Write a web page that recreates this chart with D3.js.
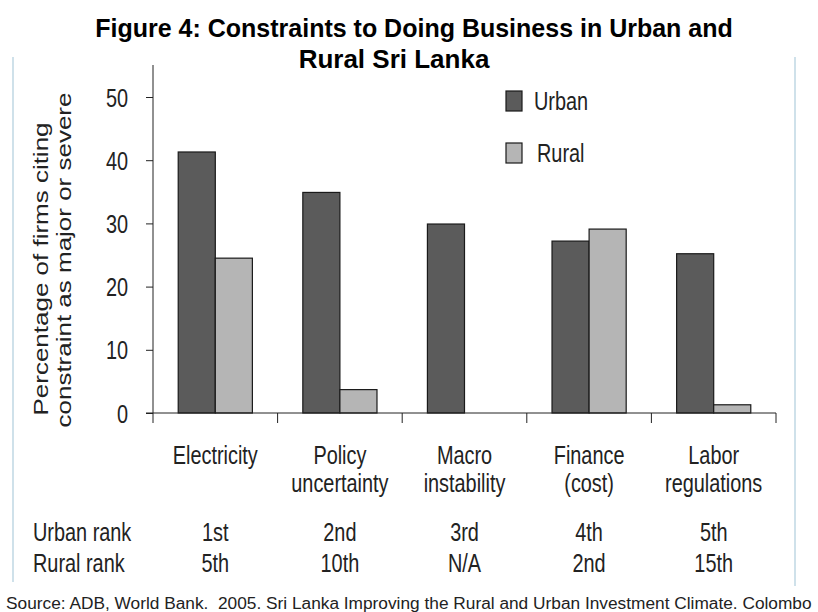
<!DOCTYPE html>
<html lang="en">
<head>
    <meta charset="UTF-8">
    <title>Constraints to Doing Business in Urban and Rural Sri Lanka</title>
    <style>
        body { margin: 0; background: #fff; }
        svg text { font-family: "Liberation Sans", Arial, sans-serif; fill: #222; }
        .title text { font-weight: bold; fill: #000; }
    </style>
</head>
<body>
    <div id="chart"></div>

    <script src="https://d3js.org/d3.v7.min.js"></script>
    <script>
        // data
        const categories = ["Electricity", "Policy uncertainty", "Macro instability", "Finance (cost)", "Labor regulations"];
        const catLines = [["Electricity"], ["Policy", "uncertainty"], ["Macro", "instability"], ["Finance", "(cost)"], ["Labor", "regulations"]];
        const series = ["Urban", "Rural"];
        const urban = [41.3, 34.9, 29.9, 27.2, 25.2];
        const rural = [24.5, 3.7, null, 29.1, 1.3]; // macro instability: N/A for rural
        const urbanRank = ["1st", "2nd", "3rd", "4th", "5th"];
        const ruralRank = ["5th", "10th", "N/A", "2nd", "15th"];
        const yTicks = [0, 10, 20, 30, 40, 50];

        const width = 818, height = 612;
        const fs = 26;      // chart text size (picture is squashed sideways)
        const sx = 0.765;

        const svg = d3.select("#chart").append("svg")
            .attr("width", width)
            .attr("height", height);

        // title
        const title = svg.append("g").attr("class", "title");
        title.append("text").attr("x", 414).attr("y", 37).attr("text-anchor", "middle")
            .style("font-size", "25px").text("Figure 4: Constraints to Doing Business in Urban and");
        title.append("text").attr("x", 394).attr("y", 68).attr("text-anchor", "middle")
            .style("font-size", "26px").text("Rural Sri Lanka");

        // light blue edges of the pasted picture
        svg.append("line").attr("x1", 13).attr("x2", 13).attr("y1", 57).attr("y2", 582)
            .attr("stroke", "#cfe1ea").attr("stroke-width", 2);
        svg.append("line").attr("x1", 795).attr("x2", 795).attr("y1", 57).attr("y2", 586)
            .attr("stroke", "#cfe1ea").attr("stroke-width", 2);

        // narrow text helper
        function narrow(g, x, y, str, anchor, size) {
            return g.append("text")
                .attr("transform", `translate(${x},${y}) scale(${sx},1)`)
                .attr("text-anchor", anchor || "middle")
                .style("font-size", (size || fs) + "px")
                .text(str);
        }

        const x0 = d3.scaleBand().domain(categories).range([153, 776]).padding(0);
        const x1 = d3.scaleBand().domain(series).range([0, x0.bandwidth()]).paddingOuter(0.68);
        const y = d3.scaleLinear().domain([0, 50]).range([413, 97]);
        const color = d3.scaleOrdinal().domain(series).range(["#5b5b5b", "#b5b5b5"]);

        // y axis
        const yAxis = svg.append("g")
            .attr("transform", "translate(153,0)")
            .call(d3.axisLeft(y).tickValues(yTicks).tickSize(7).tickSizeOuter(0));
        yAxis.select(".domain").attr("d", `M0,${y(0)}V65`).attr("stroke", "#222");
        yAxis.selectAll(".tick line").attr("stroke", "#222");
        yAxis.selectAll(".tick text")
            .attr("x", 0).attr("dy", "0.35em")
            .attr("transform", `translate(-25,0) scale(${sx},1)`)
            .style("font-size", fs + "px")
            .style("font-family", "\"Liberation Sans\", Arial, sans-serif")
            .attr("fill", "#222");

        // y axis title
        const yt = [["Percentage of firms citing", 48, 269], ["constraint as major or severe", 71, 260]];
        yt.forEach(([t, bx, cy]) => {
            svg.append("text")
                .attr("transform", `translate(${bx},${cy}) rotate(-90) scale(1,${sx})`)
                .attr("text-anchor", "middle")
                .style("font-size", fs + "px")
                .text(t);
        });

        // bars
        const rows = categories.map((c, i) => ({ cat: c, Urban: urban[i], Rural: rural[i] }));
        const groups = svg.append("g").selectAll("g")
            .data(rows)
            .join("g")
            .attr("transform", d => `translate(${x0(d.cat)},0)`);
        groups.selectAll("rect")
            .data(d => series.map(s => ({ key: s, value: d[s] })).filter(v => v.value != null))
            .join("rect")
            .attr("x", d => x1(d.key))
            .attr("width", x1.bandwidth())
            .attr("y", d => y(d.value))
            .attr("height", d => y(0) - y(d.value))
            .attr("fill", d => color(d.key))
            .attr("stroke", "#1a1a1a")
            .attr("stroke-width", 1.2);

        // x axis with ticks on band edges
        svg.append("line").attr("x1", 146).attr("x2", x0.range()[1]).attr("y1", y(0)).attr("y2", y(0))
            .attr("stroke", "#222");
        const edges = categories.map(c => x0(c)).concat([x0.range()[1]]);
        svg.append("g").selectAll("line")
            .data(edges)
            .join("line")
            .attr("x1", d => d).attr("x2", d => d)
            .attr("y1", y(0)).attr("y2", y(0) + 10)
            .attr("stroke", "#222");

        // category labels
        const labels = svg.append("g");
        catLines.forEach((lines, i) => {
            const cx = x0(categories[i]) + x0.bandwidth() / 2;
            lines.forEach((l, j) => narrow(labels, cx, 464 + j * 28, l));
        });

        // rank rows
        const ranks = svg.append("g");
        narrow(ranks, 33, 541, "Urban rank", "start");
        narrow(ranks, 33, 572, "Rural rank", "start");
        categories.forEach((c, i) => {
            const cx = x0(c) + x0.bandwidth() / 2;
            narrow(ranks, cx, 541, urbanRank[i]);
            narrow(ranks, cx, 572, ruralRank[i]);
        });

        // legend
        const legend = svg.append("g");
        series.forEach((s, i) => {
            legend.append("rect")
                .attr("x", 506).attr("y", 91 + i * 52)
                .attr("width", 16).attr("height", 20)
                .attr("fill", color(s))
                .attr("stroke", "#1a1a1a").attr("stroke-width", 1.2);
            narrow(legend, 534 + i * 3, 110 + i * 52, s, "start");
        });

        // source line, sized so the whole line stays inside the page
        svg.append("text")
            .attr("x", 6).attr("y", 609)
            .style("font-size", "17.3px")
            .style("white-space", "pre")
            .attr("fill", "#000")
            .text("Source: ADB, World Bank.  2005. Sri Lanka Improving the Rural and Urban Investment Climate. Colombo");
    </script>
</body>
</html>
